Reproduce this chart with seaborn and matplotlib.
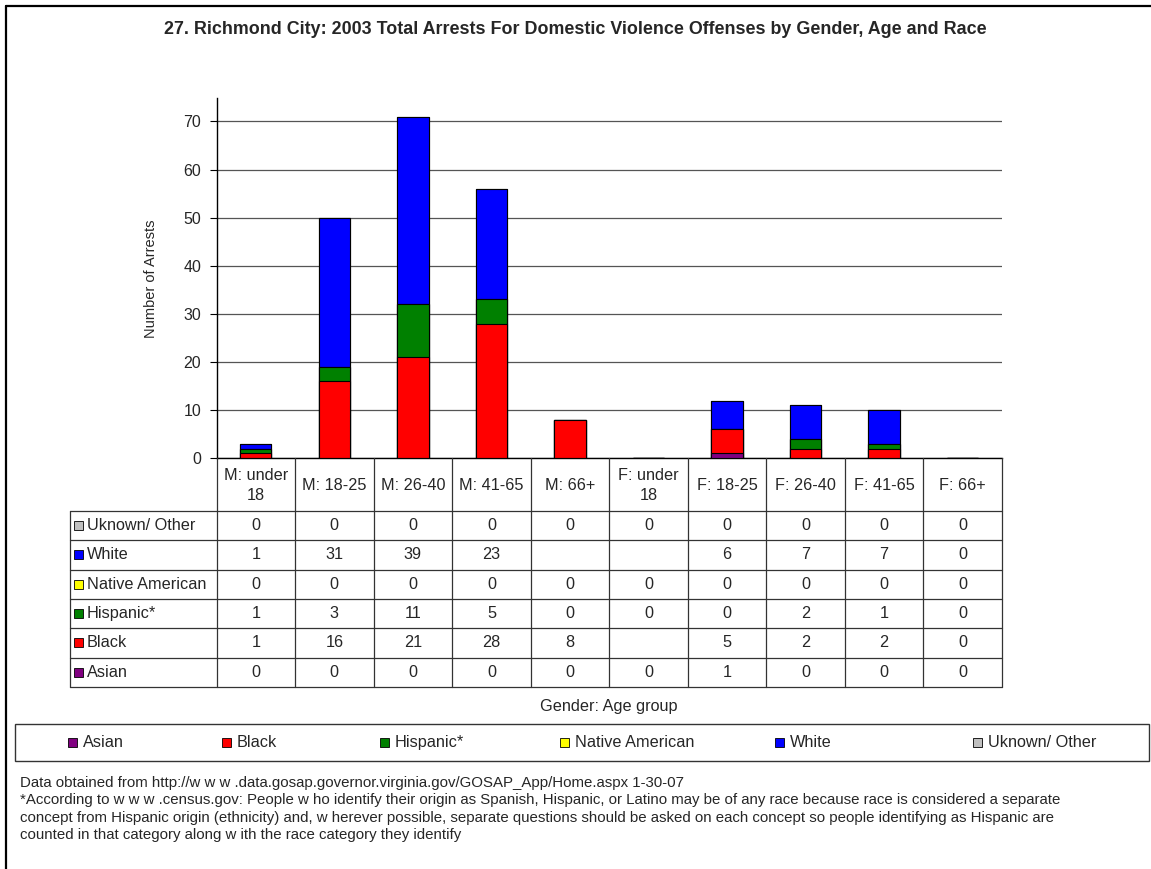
import numpy as np
import pandas as pd
import matplotlib
matplotlib.use("Agg")
import matplotlib.pyplot as plt
import seaborn as sns
from matplotlib.patches import Rectangle
from matplotlib.lines import Line2D

# ---------------- data ----------------
categories = ["M: under\n18", "M: 18-25", "M: 26-40", "M: 41-65", "M: 66+",
              "F: under\n18", "F: 18-25", "F: 26-40", "F: 41-65", "F: 66+"]
races = ["Asian", "Black", "Hispanic*", "Native American", "White", "Uknown/ Other"]
asian = [0, 0, 0, 0, 0, 0, 1, 0, 0, 0]
black = [1, 16, 21, 28, 8, None, 5, 2, 2, 0]
hispanic = [1, 3, 11, 5, 0, 0, 0, 2, 1, 0]
native_american = [0, 0, 0, 0, 0, 0, 0, 0, 0, 0]
white = [1, 31, 39, 23, None, None, 6, 7, 7, 0]
unknown_other = [0, 0, 0, 0, 0, 0, 0, 0, 0, 0]
race_colors = ["#800080", "#FF0000", "#008000", "#FFFF00", "#0000FF", "#C0C0C0"]
y_ticks = [0, 10, 20, 30, 40, 50, 60, 70]
table_row_order = ["Uknown/ Other", "White", "Native American", "Hispanic*", "Black", "Asian"]

title = "27. Richmond City: 2003 Total Arrests For Domestic Violence Offenses by Gender, Age and Race"
x_title = "Gender: Age group"
y_title = "Number of Arrests"
footnotes = [
    "Data obtained from http://w w w .data.gosap.governor.virginia.gov/GOSAP_App/Home.aspx 1-30-07",
    "*According to w w w .census.gov: People w ho identify their origin as Spanish, Hispanic, or Latino may be of any race because race is considered a separate",
    "concept from Hispanic origin (ethnicity) and, w herever possible, separate questions should be asked on each concept so people identifying as Hispanic are",
    "counted in that category along w ith the race category they identify",
]

series = {"Asian": asian, "Black": black, "Hispanic*": hispanic,
          "Native American": native_american, "White": white,
          "Uknown/ Other": unknown_other}

# ---------------- style ----------------
sns.set_style("white")
plt.rcParams["font.family"] = ["Liberation Sans", "DejaVu Sans"]
FS = 11.7

W, H = 1151, 869
fig = plt.figure(figsize=(W / 100, H / 100), dpi=100)
fig.patch.set_facecolor("white")


def fx(p):
    return p / W


def fy(p):
    return 1 - p / H


ax_left, ax_right, ax_top, ax_bottom = 216.5, 1002.0, 98.3, 458.3
ax = fig.add_axes([fx(ax_left), fy(ax_bottom), fx(ax_right - ax_left), (ax_bottom - ax_top) / H])

vals = np.array([[np.nan if v is None else v for v in series[r]] for r in races], float)
cum = np.nancumsum(vals, axis=0)

# stacked bars drawn as overlaid cumulative totals (top of stack first)
for k in range(len(races) - 1, -1, -1):
    df = pd.DataFrame({"group": categories, "count": cum[k]})
    sns.barplot(data=df, x="group", y="count", order=categories, color=race_colors[k],
                saturation=1, edgecolor="black", linewidth=0.8, width=0.4,
                errorbar=None, ax=ax, zorder=3)

ax.set_xlim(-0.5, len(categories) - 0.5)
ax.set_ylim(0, 74.8)
ax.set_yticks(y_ticks)
ax.set_xticks([])
ax.set_xlabel("")
ax.yaxis.grid(True, color="#555555", linewidth=0.9)
ax.set_axisbelow(True)
for s in ["top", "right"]:
    ax.spines[s].set_visible(False)
for s in ["left", "bottom"]:
    ax.spines[s].set_color("black")
    ax.spines[s].set_linewidth(1.0)
ax.tick_params(axis="y", direction="out", length=5, width=0.8, color="black",
               labelsize=11.5, pad=6, left=True)
ax.set_ylabel(y_title, fontsize=10.5)
ax.yaxis.set_label_coords((158 - ax_left) / (ax_right - ax_left), 0.5)

# ---------------- data table ----------------
def data_x_px(x):
    return ax.transData.transform((x, 0))[0]


label_left = 70.0
header_bottom = 511.0
row_h = 29.3
n_rows = len(table_row_order)
table_bottom = header_bottom + n_rows * row_h
line_kw = dict(color="#333333", linewidth=0.9, transform=fig.transFigure)

col_edges = [data_x_px(i - 0.5) for i in range(len(categories) + 1)]
for j in range(n_rows + 1):
    yy = header_bottom + j * row_h
    fig.add_artist(Line2D([fx(label_left), fx(col_edges[-1])], [fy(yy), fy(yy)], **line_kw))
for xe in col_edges:
    fig.add_artist(Line2D([fx(xe), fx(xe)], [fy(ax_bottom), fy(table_bottom)], **line_kw))
fig.add_artist(Line2D([fx(label_left), fx(label_left)], [fy(header_bottom), fy(table_bottom)], **line_kw))

for i, c in enumerate(categories):
    fig.text(fx(data_x_px(i)), fy((ax_bottom + header_bottom) / 2 + 1), c, ha="center", va="center",
             fontsize=FS, linespacing=1.45)

for j, r in enumerate(table_row_order):
    yc = header_bottom + (j + 0.5) * row_h
    k = races.index(r)
    fig.add_artist(Rectangle((fx(74), fy(yc + 4.5)), fx(9), 9 / H, facecolor=race_colors[k],
                             edgecolor="black", linewidth=0.6, transform=fig.transFigure))
    fig.text(fx(87), fy(yc), r, ha="left", va="center", fontsize=FS)
    for i, v in enumerate(series[r]):
        txt = "" if v is None else str(v)
        fig.text(fx(data_x_px(i)), fy(yc), txt, ha="center", va="center", fontsize=FS)

fig.text(fx((ax_left + ax_right) / 2), fy(706), x_title, ha="center", va="center", fontsize=FS)

# ---------------- legend ----------------
fig.add_artist(Rectangle((fx(15), fy(761)), fx(1149 - 15), 37 / H, facecolor="none",
                         edgecolor="#333333", linewidth=1.0, transform=fig.transFigure))
legend_key_x = [68, 222, 380, 560, 775, 973]
for k, r in enumerate(races):
    kx = legend_key_x[k]
    fig.add_artist(Rectangle((fx(kx), fy(742.5 + 4.5)), fx(9), 9 / H, facecolor=race_colors[k],
                             edgecolor="black", linewidth=0.6, transform=fig.transFigure))
    fig.text(fx(kx + 15), fy(742.5), r, ha="left", va="center", fontsize=FS)

# ---------------- title & footnotes ----------------
fig.text(fx(575), fy(30), title, ha="center", va="center", fontsize=12.9, fontweight="bold")
for n, line in enumerate(footnotes):
    fig.text(fx(20), fy(783 + n * 17.4), line, ha="left", va="center", fontsize=10.8)

# outer border (top and left visible)
fig.add_artist(Line2D([fx(6), 1.0], [fy(6), fy(6)], color="black", linewidth=1.6, transform=fig.transFigure))
fig.add_artist(Line2D([fx(6), fx(6)], [fy(6), 0.0], color="black", linewidth=1.6, transform=fig.transFigure))

fig.savefig("out.png", dpi=100)
